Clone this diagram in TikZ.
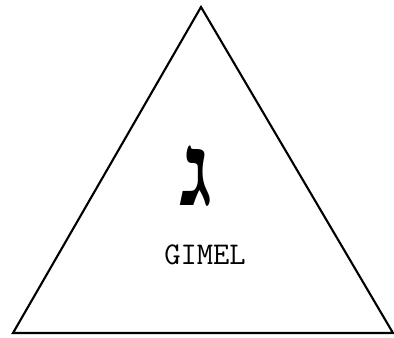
\documentclass[tikz,border=0pt]{standalone}
\usepackage{fontspec}
\usepackage{tikz}
\usetikzlibrary{positioning}
\TeXXeTstate=1
\newfontfamily\hebfont[Script=Hebrew]{Liberation Serif}
\tikzset{
	outline/.style   ={line width=1.5pt, line join=miter},
	letterglyph/.style={inner sep=0pt, font=\hebfont\bfseries\fontsize{72}{72}\selectfont},
	lettername/.style={inner sep=0pt, font=\ttfamily\fontsize{22.5}{23}\selectfont},
}
\begin{document}
\begin{tikzpicture}[x=0.025cm, y=-0.025cm]
	\useasboundingbox (0,0) rectangle (394,337);
	% corners of the triangle
	\coordinate (apex) at (201,7);
	\coordinate (left) at (13,333);
	\coordinate (right) at (393,333);
	\draw[outline] (left) -- (apex) -- (right) -- cycle;
	% letter and its name
	\node[letterglyph] (glyph) at (196,176) {\beginR ג\endR};
	\node[lettername] (name) at (205,255) {GIMEL};
\end{tikzpicture}
\end{document}
